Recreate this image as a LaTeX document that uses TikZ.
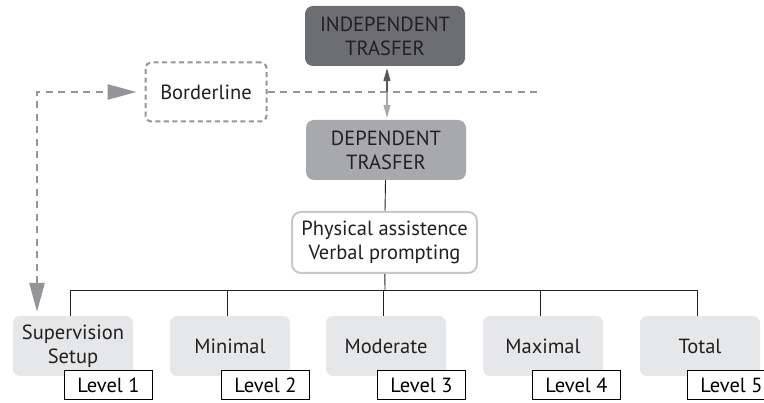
\documentclass[tikz,border=0pt]{standalone}
\usepackage{fontspec}
\setmainfont{PT Sans}
\usepackage{xcolor}
\usepackage{tikz}
\usetikzlibrary{arrows.meta, positioning, calc}

\definecolor{darkbox}{HTML}{6D6E71}
\definecolor{midbox}{HTML}{A7A9AC}
\definecolor{lightbox}{HTML}{E6E7E8}
\definecolor{dashgray}{HTML}{939598}
\definecolor{rimgray}{HTML}{C7C8CA}
\definecolor{ink}{HTML}{231F20}

\begin{document}
\begin{tikzpicture}[
    x=1pt, y=-1pt,
    font=\fontsize{20.5}{24}\selectfont,
    stage/.style={rectangle, rounded corners=8pt, fill=#1, text=ink,
                  minimum width=160pt, minimum height=60pt,
                  align=center, inner sep=2pt},
    lvl/.style={rectangle, rounded corners=7pt, fill=lightbox, text=ink,
                minimum width=120pt, minimum height=60pt,
                align=center, inner sep=2pt},
    tag/.style={rectangle, draw=black, fill=white, line width=1pt,
                minimum width=88pt, minimum height=29pt, inner sep=1pt},
    bline/.style={rectangle, rounded corners=6pt, draw=dashgray,
                  line width=2pt, dash pattern=on 5pt off 3.5pt,
                  minimum width=121pt, minimum height=59pt, text=ink},
    help/.style={rectangle, rounded corners=9pt, draw=rimgray, fill=white,
                 line width=2pt, minimum width=185pt, minimum height=61pt,
                 align=center, inner sep=2pt, text=ink},
    tree/.style={draw=ink, line width=0.9pt},
    dline/.style={draw=dashgray, line width=2.8pt,
                  dash pattern=on 7pt off 5.5pt},
    darr/.style={dline, {Triangle[length=29pt, width=15pt]}-{Triangle[length=29pt, width=15pt]}},
    uarr/.style={-{Triangle[length=13pt, width=7pt]}, line width=1.3pt}
  ]

  \useasboundingbox (0,0) rectangle (764,403);

  \node[stage=darkbox] (indep) at (385,36)  {INDEPENDENT\\TRASFER};
  \node[stage=midbox]  (dep)   at (386,150) {DEPENDENT\\TRASFER};
  \node[bline]         (bord)  at (206,92)  {Borderline};
  \node[help]          (help)  at (384.5,242.5)
        {Physical assistence\\Verbal prompting};

  \foreach \i/\x/\s/\t in {1/73/-9/{Supervision\\Setup}, 2/230/-9/Minimal,
                           3/386/-9/Moderate, 4/543/-11/Maximal,
                           5/700/-13/Total}
  {
    \node[lvl] (l\i) at (\x,346) {\t};
    \node[tag, anchor=north west] (t\i)
          at ([xshift=\s pt, yshift=6pt]l\i.south) {Level \i};
  }

  % tree below the dependent stage
  \coordinate (bus) at (385,290);
  \draw[tree] (dep) -- (help);
  \draw[tree] (help) -- (bus);
  \foreach \i in {1,...,5}
    \draw[tree] ([xshift=-3pt]l\i.north) |- (bus);

  % borderline
  \coordinate (dend) at (540,92);
  \coordinate (mid)  at (387,92);
  \draw[dline] (bord.east) -- (dend);
  \draw[darr] ([xshift=-36pt, yshift=4pt]l1.north) |- ([xshift=-8pt]bord.west);

  \draw[uarr, darkbox!80!black] (mid) -- ([xshift=2pt, yshift=-2pt]indep.south);
  \draw[uarr, midbox] (mid) -- ([xshift=1pt, yshift=2pt]dep.north);

\end{tikzpicture}
\end{document}
